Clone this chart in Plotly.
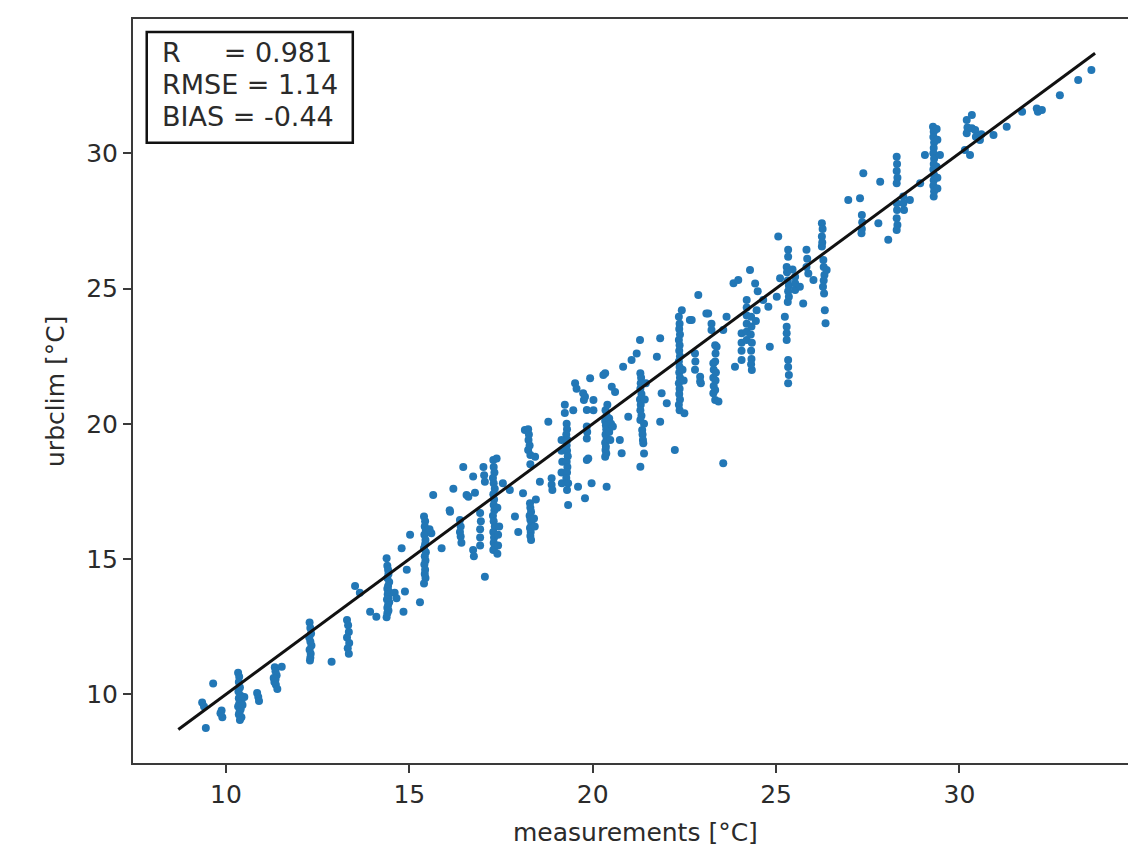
import plotly.graph_objects as go

band_09 = [(9.35, 9.7), (9.4, 9.55), (9.45, 8.75), (9.65, 10.4), (9.88, 9.4), (9.9, 9.15), (9.85, 9.3)]
band_10 = [(10.33, 10.8), (10.36, 10.65), (10.35, 10.45), (10.38, 10.25), (10.34, 10.1), (10.4, 9.95),
           (10.35, 9.85), (10.42, 9.75), (10.36, 9.65), (10.33, 9.55), (10.4, 9.45), (10.37, 9.35),
           (10.35, 9.25), (10.42, 9.15), (10.38, 9.05), (10.45, 9.6), (10.5, 9.9),
           (10.85, 10.05), (10.88, 9.9), (10.9, 9.75)]
band_11 = [(11.33, 11.0), (11.35, 10.85), (11.38, 10.7), (11.35, 10.55), (11.32, 10.45), (11.36, 10.35),
           (11.4, 10.2), (11.52, 11.02), (11.3, 10.6)]
band_12 = [(12.28, 12.65), (12.3, 12.45), (12.32, 12.25), (12.27, 12.1), (12.3, 11.95), (12.33, 11.8),
           (12.28, 11.65), (12.31, 11.5), (12.3, 11.35), (12.29, 11.25), (12.88, 11.2)]
band_13 = [(13.3, 12.75), (13.33, 12.55), (13.35, 12.3), (13.3, 12.1), (13.36, 11.9), (13.32, 11.7),
           (13.35, 11.5), (13.52, 14.0), (13.65, 13.75), (13.93, 13.05), (14.1, 12.87)]
band_14 = [(14.38, 15.03), (14.4, 14.75), (14.42, 14.6), (14.43, 14.45), (14.4, 14.3), (14.45, 14.15),
           (14.42, 14.0), (14.4, 13.9), (14.44, 13.8), (14.41, 13.7), (14.43, 13.6), (14.39, 13.5),
           (14.45, 13.4), (14.42, 13.3), (14.4, 13.2), (14.43, 13.1), (14.4, 13.0), (14.38, 12.85),
           (14.6, 13.75), (14.65, 13.55), (14.79, 15.4), (14.93, 14.6), (14.88, 13.8), (14.84, 13.05),
           (15.02, 15.9), (15.29, 13.4)]
band_15 = [(15.4, 16.57), (15.43, 16.4), (15.42, 16.2), (15.45, 16.05), (15.41, 15.9), (15.44, 15.7),
           (15.43, 15.55), (15.4, 15.4), (15.45, 15.25), (15.42, 15.1), (15.44, 14.95), (15.41, 14.8),
           (15.43, 14.6), (15.42, 14.45), (15.44, 14.3), (15.4, 14.1), (15.65, 17.37), (15.88, 15.4),
           (15.6, 15.95), (15.55, 16.1)]
band_16 = [(16.1, 16.8), (16.2, 17.6), (16.11, 16.75), (16.38, 16.44), (16.4, 16.2), (16.38, 16.0),
           (16.4, 15.83), (16.42, 15.6), (16.47, 18.4), (16.56, 17.37), (16.61, 17.3), (16.74, 18.05),
           (16.79, 17.45), (16.74, 15.33), (16.76, 15.1), (16.93, 15.5), (16.93, 16.7), (16.95, 16.4),
           (16.93, 16.1), (16.93, 15.8), (17.06, 14.35), (17.02, 18.4), (17.04, 18.1), (17.06, 17.86)]
band_17 = [(17.29, 18.66), (17.38, 18.72), (17.3, 18.4), (17.32, 18.2), (17.28, 18.0), (17.3, 17.8),
           (17.33, 17.6), (17.29, 17.4), (17.31, 17.2), (17.3, 17.0), (17.32, 16.8), (17.28, 16.6),
           (17.3, 16.4), (17.33, 16.2), (17.29, 16.0), (17.31, 15.8), (17.3, 15.6), (17.33, 15.45),
           (17.29, 15.33), (17.4, 15.2), (17.42, 15.5), (17.4, 16.9), (17.45, 16.2), (17.42, 15.9),
           (17.74, 17.55), (17.88, 16.57), (17.97, 16.0), (18.1, 17.43), (17.55, 17.8)]
band_18 = [(18.15, 19.77), (18.24, 19.8), (18.26, 19.6), (18.25, 19.4), (18.28, 19.2), (18.24, 19.03),
           (18.3, 18.85), (18.43, 18.78), (18.3, 18.5), (18.29, 17.06), (18.3, 16.9), (18.32, 16.75),
           (18.28, 16.6), (18.3, 16.45), (18.33, 16.3), (18.29, 16.15), (18.31, 16.0), (18.3, 15.85),
           (18.32, 15.7), (18.4, 16.5), (18.42, 16.2), (18.56, 17.86), (18.79, 20.08), (18.88, 17.99),
           (18.88, 17.75), (18.9, 17.55), (18.45, 17.2)]
band_19 = [(19.15, 19.4), (19.15, 19.0), (19.17, 18.6), (19.15, 18.2), (19.16, 17.8), (19.24, 20.7),
           (19.24, 20.4), (19.29, 20.0), (19.3, 19.8), (19.28, 19.6), (19.31, 19.4), (19.29, 19.2),
           (19.3, 19.0), (19.32, 18.8), (19.29, 18.6), (19.31, 18.4), (19.3, 18.2), (19.28, 18.0),
           (19.33, 17.8), (19.3, 17.55), (19.33, 17.0), (19.47, 20.5), (19.52, 21.5), (19.56, 21.3),
           (19.6, 17.67), (19.74, 21.13), (19.76, 20.88), (19.79, 21.0), (19.84, 20.51), (19.84, 19.9),
           (19.85, 19.7), (19.84, 19.46), (19.84, 18.66), (19.79, 17.25), (19.93, 21.68), (19.97, 17.8),
           (19.88, 18.72), (20.02, 20.88), (20.02, 20.5)]
band_20 = [(20.29, 21.8), (20.34, 21.87), (20.35, 20.5), (20.38, 20.3), (20.34, 20.1), (20.36, 19.95),
           (20.37, 19.8), (20.35, 19.6), (20.38, 19.45), (20.34, 19.3), (20.36, 19.15), (20.35, 19.03),
           (20.37, 18.9), (20.34, 18.78), (20.38, 17.67), (20.4, 20.7), (20.45, 20.2), (20.45, 19.7),
           (20.48, 19.4), (20.52, 21.37), (20.61, 21.18), (20.74, 19.4), (20.79, 18.91), (20.83, 22.11),
           (20.97, 20.26), (20.5, 20.0), (20.55, 19.9)]
band_21 = [(21.06, 22.36), (21.2, 22.6), (21.29, 23.1), (21.3, 21.87), (21.32, 21.7), (21.31, 21.5),
           (21.3, 21.3), (21.33, 21.1), (21.29, 20.9), (21.31, 20.7), (21.3, 20.5), (21.33, 20.3),
           (21.3, 20.14), (21.35, 19.77), (21.36, 19.6), (21.37, 19.4), (21.38, 19.28), (21.4, 18.9),
           (21.3, 18.41), (21.4, 20.0), (21.42, 20.9), (21.45, 21.5), (21.75, 22.48), (21.84, 23.16),
           (21.88, 21.13), (22.02, 20.76), (21.84, 20.08)]
band_22 = [(22.24, 19.03), (22.35, 23.96), (22.37, 23.7), (22.36, 23.5), (22.38, 23.3), (22.35, 23.1),
           (22.37, 22.9), (22.36, 22.7), (22.38, 22.5), (22.35, 22.3), (22.37, 22.1), (22.36, 21.9),
           (22.38, 21.7), (22.35, 21.5), (22.37, 21.3), (22.36, 21.1), (22.38, 20.9), (22.35, 20.7),
           (22.37, 20.5), (22.43, 24.2), (22.45, 22.0), (22.48, 21.6), (22.5, 20.39), (22.65, 23.84),
           (22.7, 23.84), (22.79, 22.6), (22.8, 22.3), (22.79, 22.0), (22.88, 24.76), (22.93, 21.74),
           (22.95, 21.5), (22.93, 21.56)]
band_23 = [(23.1, 24.08), (23.15, 24.08), (23.24, 23.7), (23.24, 23.47), (23.29, 22.24), (23.3, 22.0),
           (23.29, 21.7), (23.3, 21.4), (23.29, 21.13), (23.34, 22.9), (23.35, 22.6), (23.34, 22.3),
           (23.36, 21.9), (23.35, 21.6), (23.34, 21.25), (23.34, 20.88), (23.43, 20.82), (23.38, 22.85),
           (23.56, 23.47), (23.56, 18.54), (23.65, 23.96)]
band_24 = [(23.84, 25.2), (23.97, 25.32), (23.88, 22.11), (24.06, 23.35), (24.06, 23.0), (24.06, 22.7),
           (24.06, 22.36), (24.2, 24.58), (24.2, 24.3), (24.2, 24.0), (24.2, 23.7), (24.2, 23.4),
           (24.2, 23.1), (24.29, 25.69), (24.34, 21.99), (24.32, 23.96), (24.33, 23.6), (24.31, 23.3),
           (24.34, 23.0), (24.32, 22.7), (24.33, 22.4), (24.32, 22.2), (24.43, 25.19), (24.47, 24.2),
           (24.45, 23.8), (24.65, 24.58), (24.79, 24.33), (24.83, 22.85), (24.5, 24.9)]
band_25 = [(25.02, 24.7), (25.06, 26.92), (25.11, 25.38), (25.29, 25.8), (25.24, 23.96), (25.33, 26.43),
           (25.33, 26.18), (25.3, 25.6), (25.32, 25.3), (25.35, 25.1), (25.33, 24.9), (25.35, 24.7),
           (25.32, 24.5), (25.29, 23.59), (25.29, 23.35), (25.29, 23.1), (25.33, 22.36), (25.33, 22.1),
           (25.35, 21.8), (25.33, 21.5), (25.52, 25.44), (25.52, 25.2), (25.52, 24.95), (25.65, 25.07),
           (25.74, 24.45), (25.83, 26.43), (25.85, 26.1), (25.83, 25.8), (25.88, 25.56), (26.02, 25.32),
           (25.45, 25.7)]
band_26 = [(26.25, 27.41), (26.27, 27.2), (26.25, 26.92), (26.26, 26.7), (26.25, 26.55), (26.29, 26.06),
           (26.3, 25.8), (26.32, 25.5), (26.3, 25.3), (26.28, 25.07), (26.31, 24.82), (26.33, 24.2),
           (26.35, 23.72), (26.38, 25.69)]
band_27 = [(26.97, 28.27), (27.29, 28.34), (27.34, 27.72), (27.35, 27.45), (27.34, 27.2), (27.33, 27.04),
           (27.38, 29.26), (27.84, 28.95), (27.79, 27.41), (28.06, 26.8)]
band_28 = [(28.29, 29.87), (28.3, 29.6), (28.29, 29.35), (28.31, 29.1), (28.29, 28.89), (28.29, 28.15),
           (28.3, 27.9), (28.29, 27.6), (28.31, 27.35), (28.29, 27.16), (28.47, 28.4), (28.47, 28.15),
           (28.49, 27.9), (28.65, 28.27), (28.93, 28.89), (29.06, 29.94)]
band_29 = [(29.28, 30.98), (29.3, 30.8), (29.29, 30.6), (29.31, 30.4), (29.3, 30.2), (29.29, 30.0),
           (29.31, 29.8), (29.3, 29.6), (29.29, 29.4), (29.31, 29.2), (29.3, 29.0), (29.29, 28.8),
           (29.31, 28.6), (29.3, 28.4), (29.38, 30.9), (29.4, 30.5), (29.38, 29.5), (29.4, 29.1),
           (29.4, 28.7), (29.47, 29.94)]
band_30 = [(30.15, 30.12), (30.2, 31.23), (30.22, 30.95), (30.2, 30.74), (30.29, 29.94), (30.34, 31.42),
           (30.34, 30.93), (30.43, 30.86), (30.45, 30.61), (30.56, 30.49), (30.6, 30.7), (30.93, 30.68),
           (31.29, 30.98), (31.71, 31.54), (32.11, 31.66), (32.14, 31.54), (32.25, 31.6), (32.74, 32.15),
           (33.24, 32.71), (33.6, 33.08)]

bands = [band_09, band_10, band_11, band_12, band_13, band_14, band_15, band_16, band_17, band_18,
         band_19, band_20, band_21, band_22, band_23, band_24, band_25, band_26, band_27, band_28,
         band_29, band_30]

measurements = [p[0] for b in bands for p in b]
urbclim = [p[1] for b in bands for p in b]

line_x = [8.7, 33.7]
line_y = [8.7, 33.7]

tick_vals = [10, 15, 20, 25, 30]
stats_lines = ["R\u00a0\u00a0\u00a0\u00a0 = 0.981", "RMSE = 1.14", "BIAS = -0.44"]

FONT = "DejaVu Sans"
TXT = "#2b2b2b"

fig = go.Figure()
fig.add_trace(go.Scatter(x=measurements, y=urbclim, mode="markers",
                         marker=dict(size=8, color="#2277b6", line=dict(width=0)),
                         showlegend=False, hoverinfo="skip"))
fig.add_trace(go.Scatter(x=line_x, y=line_y, mode="lines",
                         line=dict(color="#111111", width=3), showlegend=False, hoverinfo="skip"))

axis_common = dict(showgrid=False, zeroline=False, showline=True, linecolor="#3a3a3a", linewidth=2,
                   ticks="outside", ticklen=8, tickwidth=1.6, tickcolor="#3a3a3a",
                   tickfont=dict(family=FONT, size=25, color=TXT), tickvals=tick_vals)

fig.update_layout(
    width=1128, height=849,
    margin=dict(l=133, r=0, t=19, b=86, pad=0),
    paper_bgcolor="white", plot_bgcolor="white",
    xaxis=dict(range=[7.464, 34.598], mirror=True, **axis_common),
    yaxis=dict(range=[7.46, 34.965], mirror=False, **axis_common),
)

# axis titles
fig.add_annotation(text="measurements [°C]", xref="paper", yref="paper", x=0.5055, y=-0.093,
                   xanchor="center", yanchor="middle", showarrow=False,
                   font=dict(family=FONT, size=25, color=TXT))
fig.add_annotation(text="urbclim [°C]", xref="paper", yref="paper", x=-0.0784, y=0.5,
                   xanchor="center", yanchor="middle", showarrow=False, textangle=-90,
                   font=dict(family=FONT, size=25, color=TXT))

# statistics box
fig.add_shape(type="rect", xref="paper", yref="paper", x0=0.0138, x1=0.2209, y0=0.8337, y1=0.9825,
              line=dict(color="#111111", width=2.5), fillcolor="white", layer="above")
for txt, yy in zip(stats_lines, [0.9547, 0.9117, 0.8687]):
    fig.add_annotation(text=txt, xref="paper", yref="paper", x=0.0268, y=yy,
                       xanchor="left", yanchor="middle", showarrow=False,
                       font=dict(family=FONT, size=27, color=TXT))

fig.write_html("out.html")
